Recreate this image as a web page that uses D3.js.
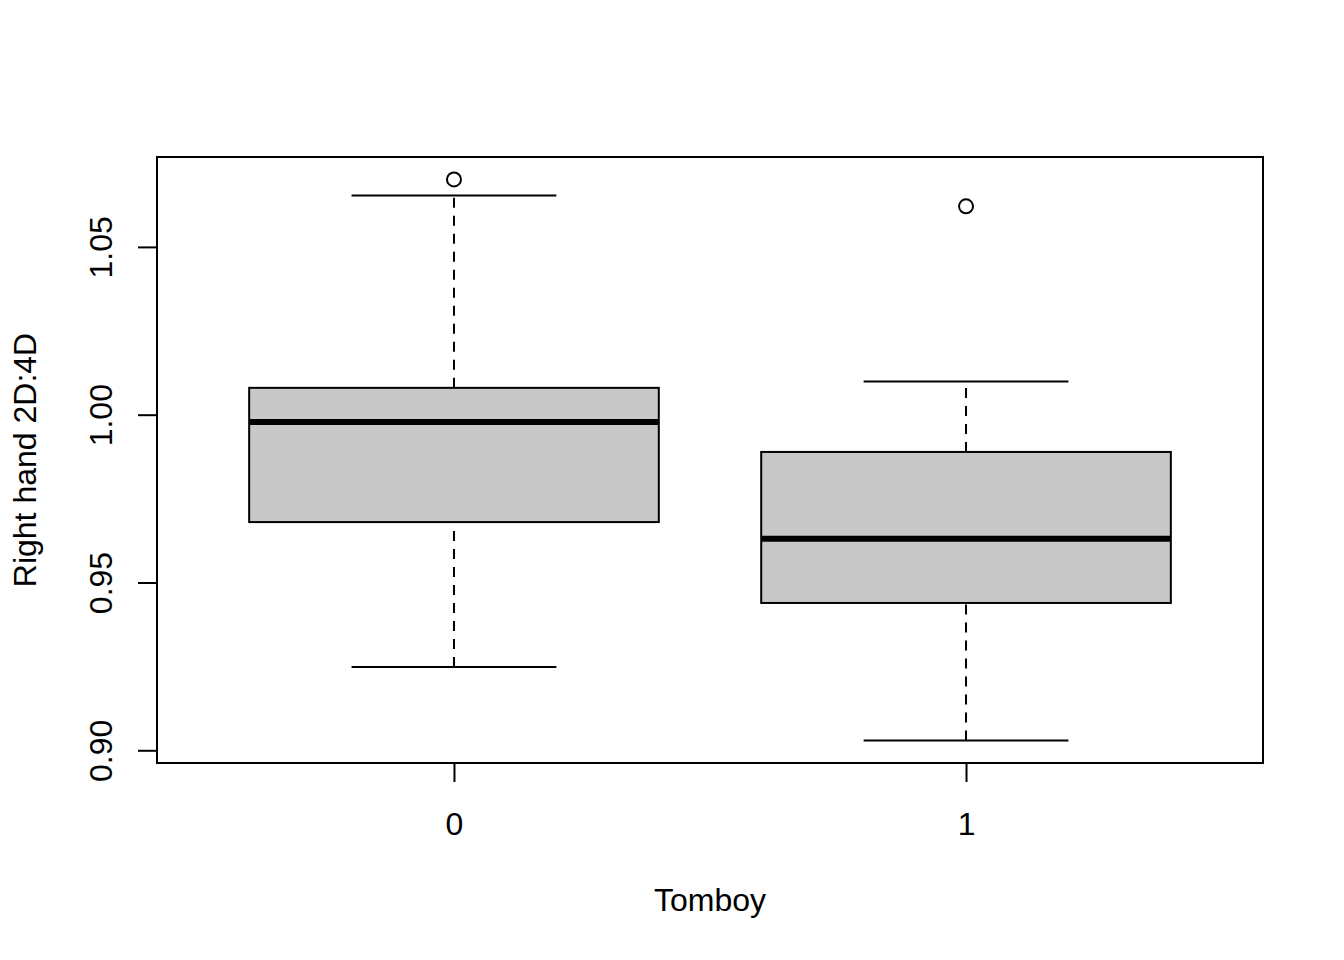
<!DOCTYPE html>
<html>
<head>
<meta charset="utf-8">
<script src="https://cdn.jsdelivr.net/npm/d3@7"></script>
<style>
  html, body { margin: 0; padding: 0; background: #fff; }
  svg { display: block; }
  text { font-family: "Liberation Sans", Arial, Helvetica, sans-serif; fill: #000; }
</style>
</head>
<body>
<svg id="chart" width="1344" height="960"></svg>
<script>
// ---- data ----
const categories = ["0", "1"];
const lowerWhisker = [0.9248, 0.9029];
const q1 = [0.9680, 0.9439];
const median = [0.9978, 0.9630];
const q3 = [1.0080, 0.9889];
const upperWhisker = [1.0653, 1.0099];
const outliers = [[1.0701], [1.0621]];
const yTicks = [0.90, 0.95, 1.00, 1.05];
const xLabel = "Tomboy";
const yLabel = "Right hand 2D:4D";

// ---- layout ----
const W = 1344, H = 960;
const plot = { left: 157, right: 1263, top: 157, bottom: 763 };
const fontSize = 32;

const svg = d3.select("#chart");
svg.append("rect").attr("width", W).attr("height", H).attr("fill", "#fff");

// x: positions 1..n, range (0.5, n+0.5) extended 4%
const n = categories.length;
const xr = [0.5, n + 0.5];
const xe = (xr[1] - xr[0]) * 0.04;
const x = d3.scaleLinear().domain([xr[0] - xe, xr[1] + xe]).range([plot.left, plot.right]);

const allVals = lowerWhisker.concat(upperWhisker, outliers.flat());
const ymin = d3.min(allVals), ymax = d3.max(allVals);
const ye = (ymax - ymin) * 0.04;
const y = d3.scaleLinear().domain([ymin - ye, ymax + ye]).range([plot.bottom, plot.top]);

const boxHalf = 0.4, capHalf = 0.2;
const data = categories.map((c, i) => ({
  c, pos: i + 1, lo: lowerWhisker[i], q1: q1[i], med: median[i], q3: q3[i], hi: upperWhisker[i], out: outliers[i]
}));

const g = svg.append("g");
const boxes = g.selectAll("g.box").data(data).enter().append("g").attr("class", "box");

// whiskers (dashed)
boxes.append("line")
  .attr("x1", d => x(d.pos)).attr("x2", d => x(d.pos))
  .attr("y1", d => y(d.lo)).attr("y2", d => y(d.q1))
  .attr("stroke", "#000").attr("stroke-width", 2).attr("stroke-dasharray", "10,8");
boxes.append("line")
  .attr("x1", d => x(d.pos)).attr("x2", d => x(d.pos))
  .attr("y1", d => y(d.q3)).attr("y2", d => y(d.hi))
  .attr("stroke", "#000").attr("stroke-width", 2).attr("stroke-dasharray", "10,8");
// caps
boxes.append("line")
  .attr("x1", d => x(d.pos - capHalf)).attr("x2", d => x(d.pos + capHalf))
  .attr("y1", d => y(d.lo)).attr("y2", d => y(d.lo))
  .attr("stroke", "#000").attr("stroke-width", 2);
boxes.append("line")
  .attr("x1", d => x(d.pos - capHalf)).attr("x2", d => x(d.pos + capHalf))
  .attr("y1", d => y(d.hi)).attr("y2", d => y(d.hi))
  .attr("stroke", "#000").attr("stroke-width", 2);
// box
boxes.append("rect")
  .attr("x", d => x(d.pos - boxHalf))
  .attr("width", d => x(d.pos + boxHalf) - x(d.pos - boxHalf))
  .attr("y", d => y(d.q3))
  .attr("height", d => y(d.q1) - y(d.q3))
  .attr("fill", "#C8C8C8").attr("stroke", "#000").attr("stroke-width", 2);
// median
boxes.append("line")
  .attr("x1", d => x(d.pos - boxHalf)).attr("x2", d => x(d.pos + boxHalf))
  .attr("y1", d => y(d.med)).attr("y2", d => y(d.med))
  .attr("stroke", "#000").attr("stroke-width", 6);
// outliers
boxes.selectAll("circle").data(d => d.out.map(v => ({ pos: d.pos, v }))).enter().append("circle")
  .attr("cx", d => x(d.pos)).attr("cy", d => y(d.v)).attr("r", 7)
  .attr("fill", "none").attr("stroke", "#000").attr("stroke-width", 2);

// frame
svg.append("rect")
  .attr("x", plot.left).attr("y", plot.top)
  .attr("width", plot.right - plot.left).attr("height", plot.bottom - plot.top)
  .attr("fill", "none").attr("stroke", "#000").attr("stroke-width", 2);

// x axis
const xAxis = d3.axisBottom(x).tickValues(data.map(d => d.pos))
  .tickFormat((d, i) => categories[i]).tickSize(19).tickPadding(0).tickSizeOuter(0);
const gx = svg.append("g").attr("transform", `translate(0,${plot.bottom})`).call(xAxis);
gx.select(".domain").remove();
gx.selectAll(".tick line").attr("stroke", "#000").attr("stroke-width", 2);
gx.selectAll(".tick text").attr("font-size", fontSize).attr("font-family", null)
  .attr("y", null).attr("dy", null).attr("transform", "translate(0,72)")
  .attr("text-anchor", "middle");

// y axis
const yAxis = d3.axisLeft(y).tickValues(yTicks).tickFormat(d3.format(".2f"))
  .tickSize(19).tickSizeOuter(0);
const gy = svg.append("g").attr("transform", `translate(${plot.left},0)`).call(yAxis);
gy.select(".domain").remove();
gy.selectAll(".tick line").attr("stroke", "#000").attr("stroke-width", 2);
gy.selectAll(".tick text").attr("font-size", fontSize).attr("font-family", null)
  .attr("x", null).attr("dy", null)
  .attr("text-anchor", "middle")
  .attr("transform", "translate(-45,0) rotate(-90)");

// axis titles
svg.append("text").attr("x", (plot.left + plot.right) / 2).attr("y", 911)
  .attr("text-anchor", "middle").attr("font-size", fontSize).text(xLabel);
svg.append("text")
  .attr("transform", `translate(36,${(plot.top + plot.bottom) / 2}) rotate(-90)`)
  .attr("text-anchor", "middle").attr("font-size", fontSize).text(yLabel);
</script>
</body>
</html>
